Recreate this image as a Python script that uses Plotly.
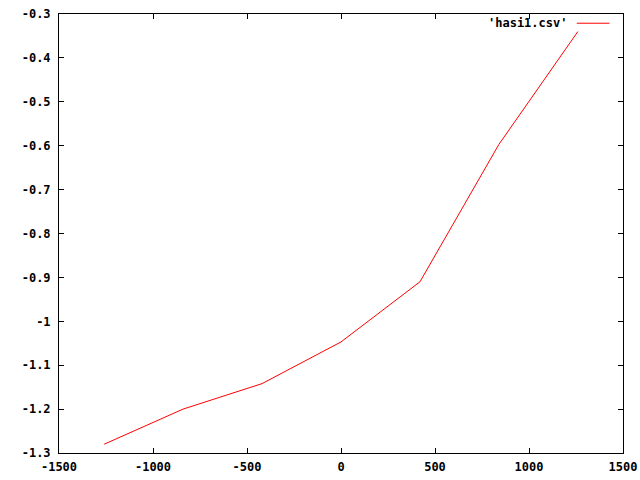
import plotly.graph_objects as go

x_vals = [-1260, -840, -420, 0, 420, 840, 1260]
y_vals = [-1.28, -1.2, -1.142, -1.047, -0.91, -0.597, -0.34]
series_name = "'hasi1.csv'"
x_ticks = [-1500, -1000, -500, 0, 500, 1000, 1500]
y_ticks = [-0.3, -0.4, -0.5, -0.6, -0.7, -0.8, -0.9, -1.0, -1.1, -1.2, -1.3]
y_tick_text = ["-0.3", "-0.4", "-0.5", "-0.6", "-0.7", "-0.8", "-0.9", "-1", "-1.1", "-1.2", "-1.3"]

font = dict(family="DejaVu Sans Mono", size=12, color="black", weight="bold")

fig = go.Figure()
fig.add_trace(go.Scatter(x=x_vals, y=y_vals, mode="lines",
                         line=dict(color="#ff0000", width=1), showlegend=False))

axis_common = dict(showgrid=False, zeroline=False, showline=True, linecolor="black",
                   linewidth=1, mirror="ticks", ticks="inside", ticklen=5,
                   tickcolor="black", tickwidth=1, tickfont=font, automargin=False,
                   ticklabeloverflow="allow")

fig.update_layout(
    width=640, height=480,
    margin=dict(l=59, r=17, t=14, b=27, autoexpand=False),
    paper_bgcolor="white", plot_bgcolor="white",
    xaxis=dict(range=[-1500, 1500], tickvals=x_ticks, ticktext=[str(v) for v in x_ticks],
               ticklabelstandoff=3, **axis_common),
    yaxis=dict(range=[-1.3, -0.3], tickvals=y_ticks, ticktext=y_tick_text,
               ticklabelstandoff=5, **axis_common),
    showlegend=False,
)

fig.add_annotation(x=0.905, y=0.979, xref="paper", yref="paper", text=series_name,
                   showarrow=False, xanchor="right", yanchor="middle", font=font)
fig.add_shape(type="line", xref="paper", yref="paper", x0=0.918, x1=0.976,
              y0=0.979, y1=0.979, line=dict(color="#ff0000", width=1))

fig.write_html("out.html", config={"displayModeBar": False},
               post_script="document.body.style.margin='0';document.body.style.overflow='hidden';")
